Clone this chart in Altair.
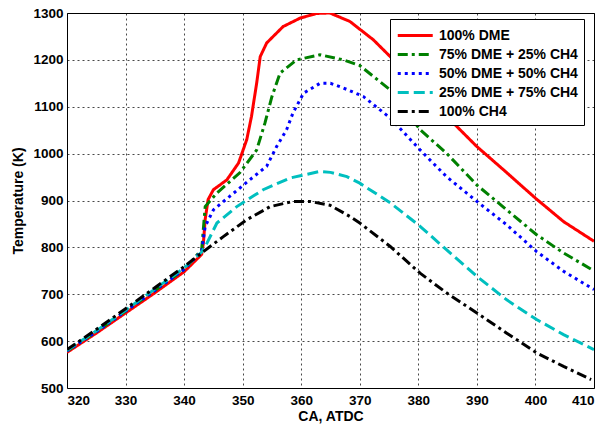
import altair as alt
import pandas as pd

series_names = ["100% DME", "75% DME + 25% CH4", "50% DME + 50% CH4",
                "25% DME + 75% CH4", "100% CH4"]
colors = ["#ff0000", "#008000", "#0000ff", "#00bfbf", "#000000"]
dashes = [[1, 0], [10, 4, 3, 4], [3, 4], [11, 5], [10, 4, 3, 4]]

dme100_ca = [320, 325, 330, 335, 340, 343, 343.3, 343.6, 344.1, 345, 347.3, 349.3, 350.7,
             351.5, 352.4, 353, 354.1, 356.9, 359.8, 362.6, 364.9, 368.3, 372.3, 375.2,
             380, 386, 390, 394.5, 400, 404.8, 410]
dme100_t = [576, 617, 660, 703, 748, 785, 810, 860, 902, 923, 944, 980, 1030,
            1079, 1151, 1207, 1236, 1271, 1289, 1299, 1300, 1282, 1243, 1207,
            1143, 1065, 1015, 966, 905, 855, 813]

dme75_ca = [320, 325, 330, 335, 340, 343, 343.6, 345.6, 349.5, 352.4, 353.8, 355, 356.4,
            359.2, 363.2, 367.2, 370, 375.2, 380.3, 384.8, 390, 395.1, 400.2, 404.8, 410]
dme75_t = [579, 620, 664, 708, 753, 795, 887, 916, 959, 1008, 1065, 1122, 1172,
           1200, 1211, 1200, 1188, 1136, 1051, 1001, 933, 880, 827, 788, 750]

dme50_ca = [320, 325, 330, 335, 340, 343, 343.6, 345, 347.8, 351.2, 354.1, 355.8, 357.5,
            358.6, 360.4, 363.2, 365, 367.2, 370.6, 375.2, 380.3, 384.8, 390, 395.1,
            400.2, 404.8, 410]
dme50_t = [579, 620, 664, 708, 753, 792, 845, 880, 909, 944, 973, 1015, 1051,
           1087, 1129, 1150, 1150, 1140, 1122, 1076, 1008, 951, 898, 848,
           791, 749, 710]

dme25_ca = [320, 325, 330, 335, 340, 343, 343.9, 345.6, 349, 353.5, 358.1, 363.2, 365,
            367.8, 370, 375.2, 380.3, 384.8, 390, 395.1, 400.2, 404.8, 410]
dme25_t = [580, 622, 666, 711, 756, 790, 809, 852, 887, 923, 948, 962, 960,
           951, 937, 895, 845, 795, 738, 688, 646, 614, 582]

ch4_ca = [320, 325, 330, 335, 340, 343.3, 346.7, 350.7, 354.7, 358.6, 361.5, 364.9,
          368.3, 370, 375.2, 380.3, 384.8, 390, 395.1, 400.2, 404.8, 409.5]
ch4_t = [582, 625, 669, 714, 759, 791, 823, 859, 887, 898, 898, 890,
         866, 852, 802, 745, 703, 660, 617, 575, 546, 518]

x_ticks = [320, 330, 340, 350, 360, 370, 380, 390, 400, 410]
y_ticks = [500, 600, 700, 800, 900, 1000, 1100, 1200, 1300]

all_ca = [dme100_ca, dme75_ca, dme50_ca, dme25_ca, ch4_ca]
all_t = [dme100_t, dme75_t, dme50_t, dme25_t, ch4_t]

rows = []
for name, cas, ts in zip(series_names, all_ca, all_t):
    for i, (c, t) in enumerate(zip(cas, ts)):
        rows.append({"series": name, "CA": c, "T": t, "idx": i})
df = pd.DataFrame(rows)

font = "Liberation Sans"
leg = dict(orient="none", legendX=323, legendY=6)

chart = alt.Chart(df).mark_line(strokeWidth=3, clip=True).encode(
    x=alt.X("CA:Q", title="CA, ATDC",
            scale=alt.Scale(domain=[320, 410], nice=False, zero=False),
            axis=alt.Axis(values=x_ticks, format="d", titlePadding=3, labelPadding=5)),
    y=alt.Y("T:Q", title="Temperature (K)",
            scale=alt.Scale(domain=[500, 1300], nice=False, zero=False),
            axis=alt.Axis(values=y_ticks, format="d", titlePadding=7, labelPadding=4)),
    color=alt.Color("series:N", title=None,
                    scale=alt.Scale(domain=series_names, range=colors),
                    legend=alt.Legend(**leg)),
    strokeDash=alt.StrokeDash("series:N", title=None,
                              scale=alt.Scale(domain=series_names, range=dashes),
                              legend=alt.Legend(**leg)),
    order="idx:Q",
).properties(
    width=527, height=375,
    autosize=alt.AutoSizeParams(type="none"),
    padding={"left": 67, "top": 13, "right": 12, "bottom": 37},
).configure_view(
    stroke="black", strokeWidth=1
).configure_axis(
    labelFont=font, labelFontWeight="bold", labelFontSize=13.5, labelColor="black",
    titleFont=font, titleFontWeight="bold", titleFontSize=14, titleColor="black",
    grid=True, gridColor="black", gridDash=[2, 3], gridOpacity=0.9, gridWidth=0.8,
    domain=False, ticks=False,
).configure_legend(
    labelFont=font, labelFontWeight="bold", labelFontSize=14, labelColor="black",
    symbolType="M-1,0H3", symbolSize=306, symbolStrokeWidth=3,
    fillColor="white", strokeColor="black", padding=6, rowPadding=1,
    labelOffset=22,
)

chart.save("out.html", embed_options={"renderer": "svg", "actions": False})
